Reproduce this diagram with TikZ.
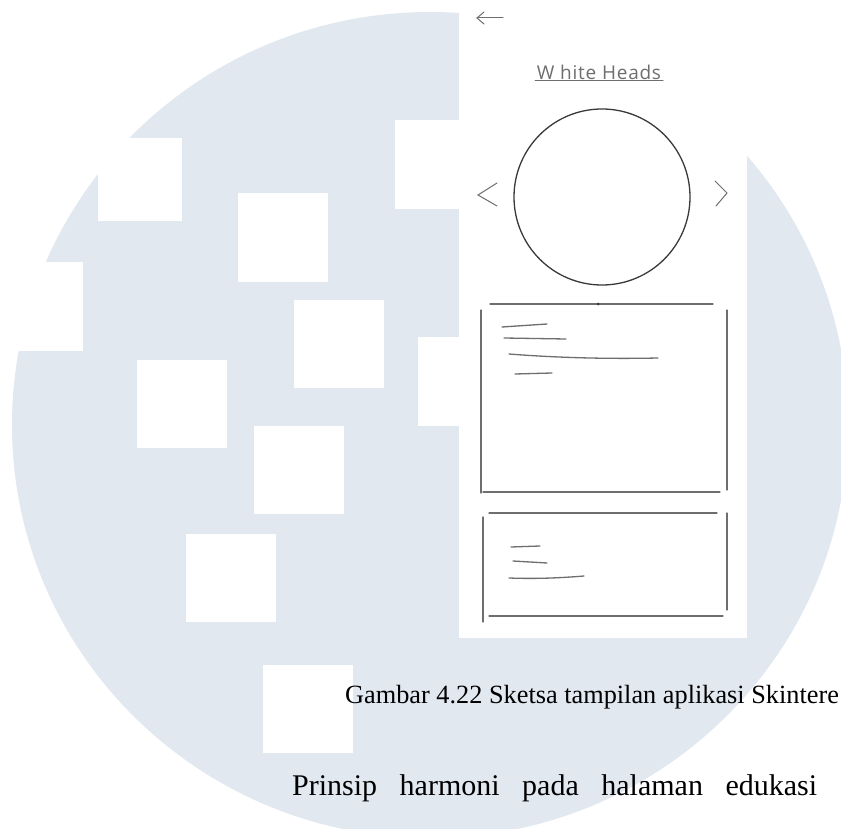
\documentclass[tikz,border=0pt]{standalone}
\usepackage{fontspec}
\setmainfont{Liberation Serif}
\newfontfamily\handfont{Open Sans}[LetterSpace=4]
\begin{document}
\begin{tikzpicture}[x=1pt,y=-1pt]
\definecolor{wm}{HTML}{E2E8F0}
\definecolor{pencil}{HTML}{6E6E6E}
\definecolor{ink}{HTML}{3A3A3A}
\tikzset{
  sketch/.style={draw=pencil, line width=1.3pt, line cap=round},
  hole/.style={fill=white},
  captiontext/.style={anchor=base west, inner sep=0pt, font=\fontsize{26.3}{30}\selectfont},
  bodytext/.style={anchor=base west, inner sep=0pt, font=\fontsize{30}{36}\selectfont}
}
\useasboundingbox (0,0) rectangle (841,829);
\fill[white] (0,0) rectangle (841,829);

% watermark: pale disc with white squares
\begin{scope}
  \clip (0,0) rectangle (841,829);
  \fill[wm] (430,425) ellipse[x radius=418pt, y radius=413pt];
  \fill[hole] (98,138) rectangle (182,221);
  \fill[hole] (238,193) rectangle (328,282);
  \fill[hole] (395,120) rectangle (460,209);
  \fill[hole] (0,262) rectangle (83,351);
  \fill[hole] (294,300) rectangle (384,388);
  \fill[hole] (418,337) rectangle (460,426);
  \fill[hole] (137,360) rectangle (227,448);
  \fill[hole] (254,426) rectangle (344,514);
  \fill[hole] (186,534) rectangle (276,622);
  \fill[hole] (263,665) rectangle (353,753);
\end{scope}

% sketch page
\fill[white] (459,0) rectangle (747,638);

% back arrow
\draw[sketch, line width=1pt] (503,18) -- (477,18);
\draw[sketch, line width=1pt] (484,12) -- (477,18) -- (484,24);

% title
\node[font=\handfont\fontsize{19}{22}\selectfont, text=pencil, inner sep=0pt, anchor=base] (title) at (599,80) {W hite Heads};
\draw[sketch, line width=1pt] (535,81) -- (663,81);

% image slot and arrows
\draw[ink, line width=1.3pt] (602,197) circle[radius=88pt];
\draw[sketch, line width=1pt] (497,183) -- (478,195) -- (497,206);
\draw[sketch, line width=1pt] (715,181) -- (727,193) -- (716,206);

% first card
\draw[sketch] (490,304) -- (713,304);
\fill[ink] (598,304) circle[radius=1.5pt];
\draw[sketch] (481,310) -- (481,493);
\draw[sketch] (727,310) -- (727,490);
\draw[sketch] (483,492) -- (720,492);
\draw[sketch] (502,327) -- (547,324);
\draw[sketch] (504,338) -- (566,339);
\draw[sketch] (509,354) .. controls (560,358) and (610,359) .. (658,358);
\draw[sketch] (515,374) -- (552,373);

% second card
\draw[sketch] (489,513) -- (717,513);
\draw[sketch] (483,517) -- (483,622);
\draw[sketch] (727,513) -- (727,610);
\draw[sketch] (489,616) -- (723,616);
\draw[sketch] (511,547) -- (540,546);
\draw[sketch] (513,561) -- (547,563);
\draw[sketch] (509,578) .. controls (535,579) and (560,578) .. (584,576);

% caption and body text
\node[captiontext] (cap) at (345,703) {Gambar 4.22 Sketsa tampilan aplikasi Skintere};
\node[bodytext] (body) at (292,795) {\hbox to 525pt{Prinsip\hfill harmoni\hfill pada\hfill halaman\hfill edukasi}};
\end{tikzpicture}
\end{document}
